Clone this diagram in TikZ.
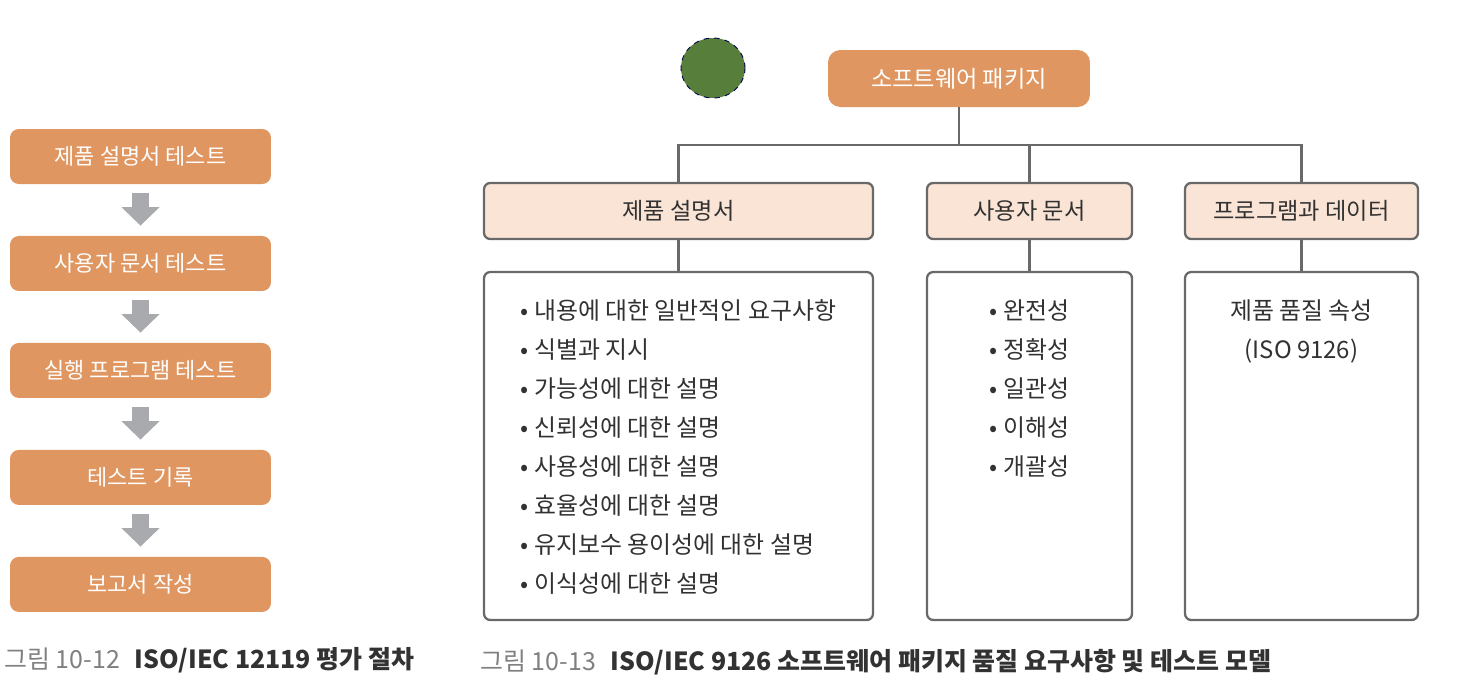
\documentclass[tikz,border=0pt]{standalone}
\usepackage{fontspec}
\setmainfont{Noto Sans CJK KR}
\usepackage{tikz}
\usetikzlibrary{arrows.meta,positioning,shapes.geometric}
\definecolor{boxorange}{RGB}{224,150,96}
\definecolor{boxpeach}{RGB}{250,228,214}
\definecolor{edgegrey}{RGB}{105,105,105}
\definecolor{arrowgrey}{RGB}{168,170,173}
\definecolor{textgrey}{RGB}{50,50,50}
\definecolor{leafgreen}{RGB}{88,126,60}
\tikzstyle{stepbox} = [rectangle, rounded corners=5pt, minimum width=5.22cm, minimum height=1.1cm, text centered, fill=boxorange, text=white, font=\fontsize{12.5}{15}\selectfont]
\tikzstyle{headbox} = [rectangle, rounded corners=3.5pt, draw=edgegrey, line width=1.3pt, fill=boxpeach, minimum height=1.12cm, text=textgrey, font=\fontsize{13.2}{15}\selectfont]
\tikzstyle{listbox} = [rectangle, rounded corners=3.5pt, draw=edgegrey, line width=1.3pt, fill=white, minimum height=6.96cm]
\tikzstyle{listtext} = [align=left, text=textgrey, font=\fontsize{13.6}{22.2}\selectfont, inner sep=0pt]
\tikzstyle{link} = [edgegrey, line width=1.2pt]
\tikzstyle{flowarrow} = [arrowgrey, line width=0.34cm, -{Triangle[width=21pt,length=10.5pt]}, shorten >=0.2cm, shorten <=0.18cm]
\tikzstyle{caption} = [anchor=west, inner sep=0pt, font=\fontsize{14.2}{16}\selectfont]

\begin{document}
\begin{tikzpicture}[x=0.02cm, y=-0.02cm, node distance=2.14cm]
  \useasboundingbox (0,0) rectangle (1464,694);
  % left: evaluation steps
  \node (s1)[stepbox] at (140.5,156.5) {제품 설명서 테스트};
  \node (s2)[stepbox, below of=s1]{사용자 문서 테스트};
  \node (s3)[stepbox, below of=s2]{실행 프로그램 테스트};
  \node (s4)[stepbox, below of=s3]{테스트 기록};
  \node (s5)[stepbox, below of=s4]{보고서 작성};
  \draw [flowarrow](s1)--(s2);
  \draw [flowarrow](s2)--(s3);
  \draw [flowarrow](s3)--(s4);
  \draw [flowarrow](s4)--(s5);
  \node (cap1)[caption] at (4,660)
    {\textcolor{gray}{그림 10-12}\hspace{0.6em}\textcolor{textgrey}{\bfseries ISO/IEC 12119 평가 절차}};

  % right: quality model
  \node (dot)[ellipse, draw=black!70!blue, dashed, line width=0.5pt, fill=leafgreen, minimum width=1.28cm, minimum height=1.2cm] at (713,68) {};
  \node (pkg)[stepbox, rounded corners=7pt, minimum width=5.24cm, minimum height=1.14cm, font=\fontsize{13.2}{15}\selectfont] at (959,78.5) {소프트웨어 패키지};
  \node (h1)[headbox, minimum width=7.78cm] at (678.5,211) {제품 설명서};
  \node (h2)[headbox, minimum width=4.1cm] at (1029.5,211) {사용자 문서};
  \node (h3)[headbox, minimum width=4.66cm] at (1301.5,211) {프로그램과 데이터};
  \node (b1)[listbox, minimum width=7.78cm] at (678.5,446) {};
  \node (b2)[listbox, minimum width=4.1cm] at (1029.5,446) {};
  \node (b3)[listbox, minimum width=4.66cm] at (1301.5,446) {};
  \coordinate (fork) at (959,145);
  \draw [link](pkg.south)--(fork);
  \draw [link](h1.north) |- (fork) -| (h3.north);
  \draw [link](h2.north)--(h2.north |- fork);
  \draw [link](h1)--(b1);
  \draw [link](h2)--(b2);
  \draw [link](h3)--(b3);
  \node (t1)[listtext, anchor=north, below=0.56cm of b1.north]
    {• 내용에 대한 일반적인 요구사항\\• 식별과 지시\\• 가능성에 대한 설명\\• 신뢰성에 대한 설명\\• 사용성에 대한 설명\\• 효율성에 대한 설명\\• 유지보수 용이성에 대한 설명\\• 이식성에 대한 설명};
  \node (t2)[listtext, anchor=north, below=0.56cm of b2.north]
    {• 완전성\\• 정확성\\• 일관성\\• 이해성\\• 개괄성};
  \node (t3)[listtext, align=center, anchor=north, below=0.56cm of b3.north]
    {제품 품질 속성\\(ISO 9126)};
  \node (cap2)[caption] at (480,662)
    {\textcolor{gray}{그림 10-13}\hspace{0.6em}\textcolor{textgrey}{\bfseries ISO/IEC 9126 소프트웨어 패키지 품질 요구사항 및 테스트 모델}};
\end{tikzpicture}
\end{document}
